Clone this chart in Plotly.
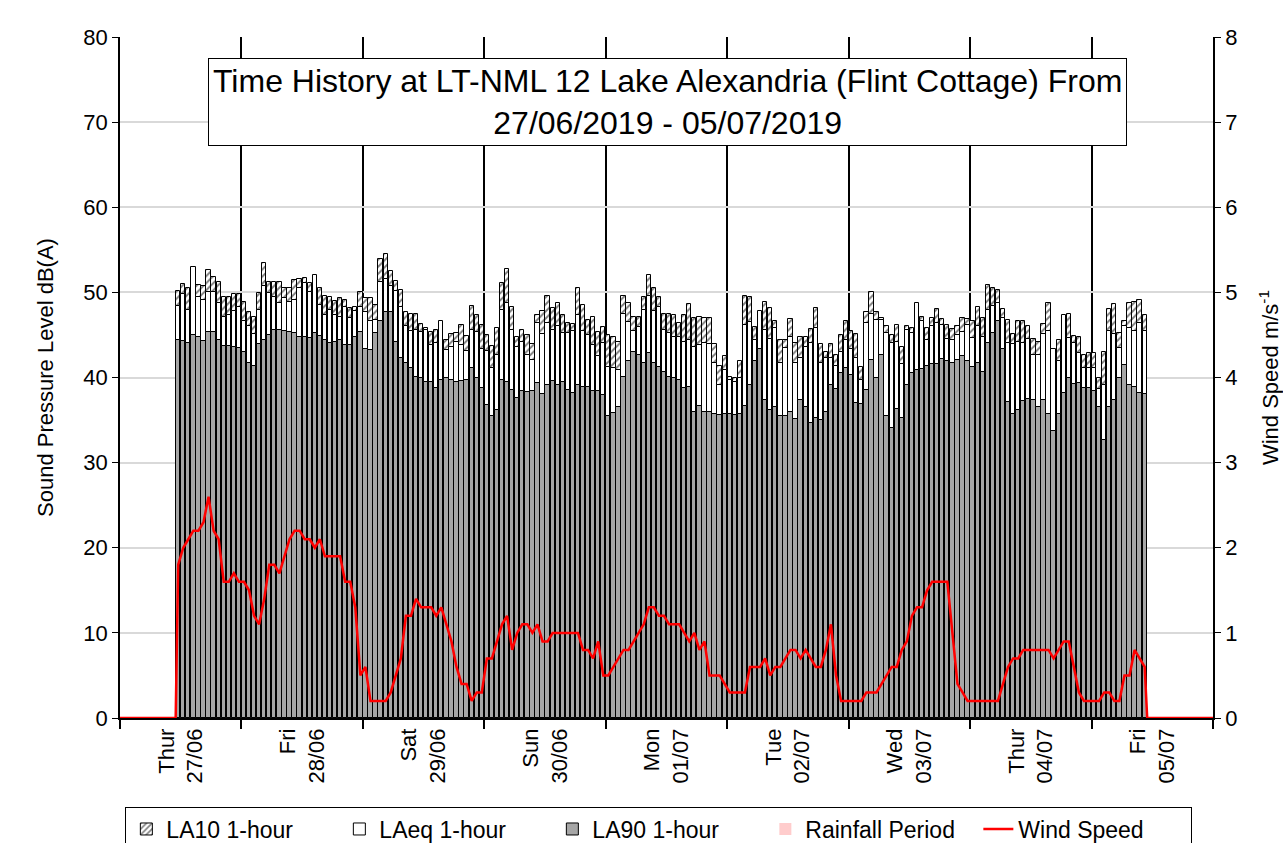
import pandas as pd
import plotly.graph_objects as go

# Hourly noise levels, dB(A), starting 27/06/2019 11:00
la10 = [50.2, 51.0, 50.5, 52.5, 50.9, 50.7, 52.6, 51.8, 51.2, 49.5,
        49.4, 49.8, 49.8, 48.9, 47.7, 47.1, 49.9, 53.4, 51.2, 51.2,
        51.2, 50.5, 50.5, 51.4, 51.6, 51.7, 51.1, 51.6, 50.5, 49.6,
        49.4, 49.0, 49.3, 49.1, 48.2, 48.3, 50.0, 49.3, 49.3, 48.5,
        53.9, 54.5, 52.5, 51.3, 50.3, 47.7, 47.5, 47.5, 46.3, 45.8,
        45.3, 45.6, 46.3, 44.4, 45.1, 45.2, 46.2, 44.9, 48.4, 47.3,
        46.2, 45.0, 43.7, 45.8, 51.1, 52.7, 48.3, 44.7, 45.6, 45.0,
        43.9, 47.3, 47.8, 49.6, 48.2, 48.8, 47.3, 46.4, 46.3, 50.5,
        48.5, 46.8, 47.1, 45.3, 45.9, 45.0, 44.7, 44.2, 49.6, 48.7,
        47.1, 47.1, 49.5, 52.1, 50.5, 49.4, 47.5, 47.5, 47.4, 46.4,
        47.4, 48.6, 47.0, 47.1, 47.0, 47.0, 43.9, 41.3, 42.5, 40.1,
        39.9, 41.9, 49.6, 49.4, 45.9, 47.5, 48.9, 48.2, 46.6, 44.4,
        44.4, 46.9, 44.0, 44.7, 44.8, 45.7, 48.2, 43.9, 43.0, 43.9,
        42.7, 45.0, 46.6, 45.5, 45.1, 41.2, 47.7, 50.0, 47.7, 47.0,
        46.0, 45.0, 46.2, 43.6, 46.0, 45.8, 48.5, 47.1, 45.8, 47.0,
        48.1, 46.9, 46.2, 45.7, 46.1, 47.0, 46.9, 46.6, 48.3, 47.0,
        50.9, 50.5, 50.3, 48.1, 46.8, 45.1, 46.6, 46.6, 46.0, 44.5,
        44.2, 46.3, 48.7, 43.2, 44.4, 47.0, 47.5, 44.9, 44.8, 42.6,
        42.9, 42.9, 39.9, 43.0, 48.1, 48.6, 45.2, 46.6, 48.7, 48.9,
        49.1, 47.4]

laeq = [48.4, 49.8, 47.9, 53.0, 49.5, 49.1, 50.1, 50.1, 48.7, 47.1,
        47.3, 47.8, 48.3, 46.6, 46.0, 45.1, 47.9, 50.7, 49.9, 49.5,
        48.7, 49.3, 48.9, 49.1, 50.5, 51.1, 50.0, 52.0, 48.5, 47.3,
        47.9, 47.3, 47.1, 48.3, 47.0, 47.8, 48.3, 47.7, 46.6, 46.8,
        51.2, 51.6, 50.7, 50.2, 48.3, 46.0, 45.5, 45.6, 45.4, 45.6,
        43.8, 44.0, 46.6, 43.2, 43.6, 44.2, 43.8, 43.1, 45.6, 45.4,
        43.4, 43.1, 41.1, 42.7, 47.9, 48.7, 45.6, 43.6, 44.2, 42.7,
        42.1, 46.4, 45.1, 46.4, 45.6, 46.0, 45.2, 45.2, 45.5, 47.3,
        45.5, 45.0, 43.8, 42.5, 44.1, 41.2, 41.1, 40.9, 47.5, 46.5,
        45.5, 45.9, 47.9, 49.6, 47.8, 48.3, 45.6, 45.2, 44.8, 44.7,
        44.2, 44.4, 43.6, 43.8, 44.0, 43.9, 41.7, 39.1, 40.9, 39.7,
        39.5, 39.9, 46.2, 46.5, 44.4, 47.8, 45.6, 44.5, 45.8, 41.7,
        43.5, 44.7, 41.7, 42.3, 43.6, 44.0, 45.8, 41.7, 42.3, 42.3,
        41.3, 43.0, 44.4, 43.4, 42.3, 39.7, 46.4, 47.5, 46.8, 46.8,
        45.2, 44.0, 44.2, 41.6, 45.6, 45.2, 48.7, 46.6, 44.4, 46.0,
        46.4, 46.2, 44.5, 44.4, 45.0, 45.3, 46.2, 44.6, 46.0, 44.8,
        47.9, 48.4, 48.8, 47.0, 44.0, 43.9, 44.2, 44.1, 44.5, 42.7,
        42.7, 45.1, 45.5, 43.4, 41.9, 47.3, 44.6, 44.0, 42.9, 41.1,
        41.1, 41.1, 38.6, 39.1, 45.5, 45.1, 43.5, 46.0, 45.8, 45.5,
        46.4, 45.5]

la90 = [44.4, 44.3, 44.1, 45.0, 44.8, 44.3, 45.3, 45.3, 44.4, 43.7,
        43.7, 43.6, 43.5, 43.0, 41.7, 41.3, 43.9, 44.4, 45.0, 45.6,
        45.6, 45.5, 45.3, 45.2, 44.8, 44.7, 44.6, 45.2, 44.9, 44.4,
        44.0, 44.2, 44.4, 43.8, 43.8, 44.7, 45.4, 43.4, 43.2, 45.2,
        46.6, 47.7, 47.7, 44.2, 42.3, 41.7, 41.1, 40.1, 39.9, 39.5,
        39.5, 38.8, 39.7, 39.9, 39.7, 39.5, 39.6, 39.7, 41.1, 39.9,
        38.8, 36.8, 35.5, 36.2, 39.7, 39.5, 38.5, 37.6, 38.4, 38.3,
        38.4, 39.3, 38.1, 39.1, 39.6, 39.1, 39.5, 38.5, 38.2, 39.1,
        38.9, 38.9, 38.4, 38.4, 38.0, 35.5, 35.8, 36.5, 40.1, 41.9,
        43.0, 42.7, 41.7, 42.9, 41.7, 41.2, 40.7, 40.1, 39.9, 39.7,
        38.8, 38.9, 36.0, 36.6, 35.9, 35.9, 35.7, 35.6, 35.7, 35.7,
        35.6, 35.7, 36.6, 39.1, 41.9, 43.4, 37.4, 36.2, 36.5, 35.5,
        35.5, 35.9, 35.1, 37.4, 36.5, 34.7, 35.3, 35.0, 35.9, 39.1,
        38.7, 40.5, 41.1, 40.3, 37.0, 36.9, 38.5, 42.1, 39.9, 42.7,
        35.5, 34.1, 36.3, 35.3, 39.1, 40.5, 40.9, 41.0, 41.3, 41.6,
        41.6, 42.2, 41.9, 41.7, 42.1, 42.5, 41.9, 41.2, 41.7, 40.7,
        44.0, 45.2, 46.6, 43.4, 37.1, 35.7, 36.2, 37.2, 37.5, 37.4,
        36.5, 37.4, 35.7, 33.7, 35.7, 38.2, 39.9, 39.2, 39.3, 38.8,
        38.8, 38.4, 36.5, 32.7, 36.5, 37.3, 39.9, 41.5, 39.1, 38.9,
        38.2, 38.1]

# Hourly mean wind speed, m/s
wind = [1.8, 2.0, 2.1, 2.2, 2.2, 2.3, 2.6, 2.2, 2.1, 1.6,
        1.6, 1.7, 1.6, 1.6, 1.5, 1.2, 1.1, 1.4, 1.8, 1.8,
        1.7, 1.9, 2.1, 2.2, 2.2, 2.1, 2.1, 2.0, 2.1, 1.9,
        1.9, 1.9, 1.9, 1.6, 1.6, 1.3, 0.5, 0.6, 0.2, 0.2,
        0.2, 0.2, 0.3, 0.5, 0.7, 1.2, 1.2, 1.4, 1.3, 1.3,
        1.3, 1.2, 1.3, 1.1, 0.9, 0.6, 0.4, 0.4, 0.2, 0.3,
        0.3, 0.7, 0.7, 0.9, 1.1, 1.2, 0.8, 1.0, 1.1, 1.1,
        1.0, 1.1, 0.9, 0.9, 1.0, 1.0, 1.0, 1.0, 1.0, 1.0,
        0.8, 0.8, 0.7, 0.9, 0.5, 0.5, 0.6, 0.7, 0.8, 0.8,
        0.9, 1.0, 1.1, 1.3, 1.3, 1.2, 1.2, 1.1, 1.1, 1.1,
        1.0, 0.9, 1.0, 0.8, 0.9, 0.5, 0.5, 0.5, 0.4, 0.3,
        0.3, 0.3, 0.3, 0.6, 0.6, 0.6, 0.7, 0.5, 0.6, 0.6,
        0.7, 0.8, 0.8, 0.7, 0.8, 0.7, 0.6, 0.6, 0.8, 1.1,
        0.5, 0.2, 0.2, 0.2, 0.2, 0.2, 0.3, 0.3, 0.3, 0.4,
        0.5, 0.6, 0.6, 0.8, 0.9, 1.2, 1.3, 1.3, 1.5, 1.6,
        1.6, 1.6, 1.6, 1.0, 0.4, 0.3, 0.2, 0.2, 0.2, 0.2,
        0.2, 0.2, 0.2, 0.4, 0.6, 0.7, 0.7, 0.8, 0.8, 0.8,
        0.8, 0.8, 0.8, 0.7, 0.8, 0.9, 0.9, 0.6, 0.3, 0.2,
        0.2, 0.2, 0.2, 0.3, 0.3, 0.2, 0.2, 0.5, 0.5, 0.8,
        0.7, 0.6]

# No rainfall periods were logged during the survey (placeholder keeps the key)
rain_start = [None]
rain_level = [None]

first_hour = "2019-06-27 11:00"
axis_start = "2019-06-27 00:00"
axis_end = "2019-07-06 00:00"
day_names = ["Thur", "Fri", "Sat", "Sun", "Mon", "Tue", "Wed", "Thur", "Fri"]
day_dates = ["27/06", "28/06", "29/06", "30/06", "01/07", "02/07", "03/07", "04/07", "05/07"]

FONT = "Liberation Sans, Arial, sans-serif"
HOUR_MS = 3600 * 1000

hours = pd.date_range(first_hour, periods=len(la10), freq="h")
centres = hours + pd.Timedelta(minutes=30)
one_hour = pd.Timedelta(hours=1)

days = pd.date_range(axis_start, periods=len(day_names), freq="D")
noons = days + pd.Timedelta(hours=12)
midnights = pd.date_range(axis_start, axis_end, freq="D")
tick_text = [f"{n}<br>{d}" for n, d in zip(day_names, day_dates)]

bar_w = 0.85 * HOUR_MS
outline = dict(color="black", width=1)

fig = go.Figure()
fig.add_trace(go.Bar(
    x=centres, y=la10, name="LA10 1-hour", width=bar_w,
    marker=dict(color="white", line=outline,
                pattern=dict(shape="/", fgcolor="black", bgcolor="white",
                             size=5, solidity=0.4)),
))
fig.add_trace(go.Bar(
    x=centres, y=laeq, name="LAeq 1-hour", width=bar_w,
    marker=dict(color="white", line=outline),
))
fig.add_trace(go.Bar(
    x=centres, y=la90, name="LA90 1-hour", width=bar_w,
    marker=dict(color="#a6a6a6", line=outline),
))
fig.add_trace(go.Bar(
    x=rain_start, y=rain_level, name="Rainfall Period", yaxis="y2",
    marker=dict(color="#ffcccc", line=dict(width=0)),
))

# wind trace sits on the zero line outside the logging period
wind_x = [pd.Timestamp(axis_start), hours[0]] + list(centres) + [hours[-1] + one_hour, pd.Timestamp(axis_end)]
wind_y = [0, 0] + wind + [0, 0]
fig.add_trace(go.Scatter(
    x=wind_x, y=wind_y, name="Wind Speed", yaxis="y2", mode="lines",
    line=dict(color="#ff0000", width=2.5),
))

fig.add_annotation(
    text="Time History at LT-NML 12 Lake Alexandria (Flint Cottage) From<br>27/06/2019 - 05/07/2019",
    xref="paper", yref="paper", x=0.501, y=0.904, xanchor="center", yanchor="middle",
    showarrow=False, bgcolor="white", bordercolor="black", borderwidth=1, borderpad=4,
    font=dict(family=FONT, size=32, color="black"),
)

fig.update_layout(
    width=1283, height=843,
    margin=dict(l=120, r=70, t=37, b=125, autoexpand=False),
    paper_bgcolor="white", plot_bgcolor="white",
    font=dict(family=FONT, size=22, color="black"),
    barmode="overlay", bargap=0,
    showlegend=True,
    legend=dict(
        orientation="h", x=0.493, xanchor="center", y=-0.13, yanchor="top",
        bordercolor="black", borderwidth=1, bgcolor="white",
        font=dict(family=FONT, size=23), entrywidth=168, traceorder="normal",
    ),
    xaxis=dict(
        type="date", range=[axis_start, axis_end], automargin=False,
        tickmode="array", tickvals=noons, ticktext=tick_text, tickangle=-90,
        ticks="", showgrid=False, zeroline=False,
        showline=True, linecolor="black", linewidth=1.5,
        tickfont=dict(family=FONT, size=22),
        minor=dict(tickmode="array", tickvals=midnights, ticks="outside", ticklen=9,
                   tickcolor="black", tickwidth=1.5,
                   showgrid=True, gridcolor="black", gridwidth=2),
    ),
    yaxis=dict(
        range=[0, 80], dtick=10, tick0=0, automargin=False,
        showgrid=True, gridcolor="#d9d9d9", gridwidth=1.5, zeroline=False,
        showline=True, linecolor="black", linewidth=1.5,
        ticks="outside", ticklen=6, tickcolor="black",
        title=dict(text="Sound Pressure Level dB(A)", font=dict(family=FONT, size=22), standoff=24),
        tickfont=dict(family=FONT, size=22),
    ),
    yaxis2=dict(
        range=[0, 8], dtick=1, tick0=0, overlaying="y", side="right", automargin=False,
        showgrid=False, zeroline=False,
        showline=True, linecolor="black", linewidth=1.5,
        ticks="outside", ticklen=6, tickcolor="black",
        title=dict(text="Wind Speed m/s<sup>-1</sup>", font=dict(family=FONT, size=22), standoff=30),
        tickfont=dict(family=FONT, size=22),
    ),
)

fig.write_html("out.html")
